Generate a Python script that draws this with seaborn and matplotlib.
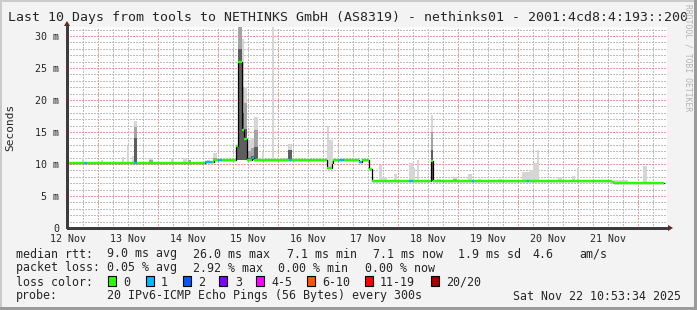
import matplotlib
matplotlib.use("Agg")
import matplotlib.pyplot as plt
from matplotlib.patches import Rectangle, Polygon
from matplotlib.lines import Line2D
import numpy as np
import pandas as pd
import seaborn as sns

# ---------------- data ----------------
title = "Last 10 Days from tools to NETHINKS GmbH (AS8319) - nethinks01 - 2001:4cd8:4:193::200"
day_labels = ["12 Nov", "13 Nov", "14 Nov", "15 Nov", "16 Nov",
              "17 Nov", "18 Nov", "19 Nov", "20 Nov", "21 Nov"]
label_hours = [12, 36, 60, 84, 108, 132, 156, 180, 204, 228]   # noon of each day (hours since 12 Nov 00:00)
midnight_hours = [24, 48, 72, 96, 120, 144, 168, 192, 216, 240]
ytick_vals = [0, 5, 10, 15, 20, 25, 30]
ytick_labels = ["0", "5 m", "10 m", "15 m", "20 m", "25 m", "30 m"]

# median rtt as runs: start hour, value (ms), loss bucket index
median_start = [11.6, 18.4, 19.6, 38.4, 39.6, 66.8, 69.6, 70.4, 71.9, 73.5,
                79.2, 80.1, 81.5, 82.5, 83.5, 85.5, 86.5, 100.4, 101.5,
                115.7, 117.5, 118.1, 120.4, 122.4, 128.4, 129.6, 132.3, 133.6,
                148.3, 150.0, 157.1, 158.1, 173.5, 174.4, 195.5, 196.5,
                229.5, 230.4]
median_ms = [10.2, 10.2, 10.2, 10.2, 10.2, 10.25, 10.35, 10.55, 10.55, 10.55,
             12.8, 26.0, 15.3, 13.9, 10.6, 10.9, 10.55, 10.55, 10.55,
             9.4, 10.2, 10.55, 10.55, 10.55, 10.3, 10.55, 9.2, 7.4,
             7.4, 7.4, 10.4, 7.4, 7.4, 7.4, 7.4, 7.4,
             7.25, 7.1]
median_loss = [0, 1, 0, 1, 0, 1, 0, 0, 1, 0,
               0, 0, 0, 0, 0, 1, 0, 1, 0,
               0, 0, 0, 1, 0, 1, 0, 0, 0,
               1, 0, 0, 0, 1, 0, 1, 0,
               0, 0]
median_end = 250.4

# smoke (ping distribution): start/end hour, low, high (light), mid (medium), dark tops (ms)
smoke_start = [17.6, 25.2, 33.6, 35.6, 37.6, 38.4, 44.4, 53.2, 58.0, 60.0, 67.6, 70.0,
               79.2, 80.1, 81.5, 82.5, 83.5, 85.2, 86.4, 89.6, 93.6, 100.0,
               115.7, 116.5, 136.4, 137.5, 142.3, 148.3, 149.9, 151.6, 157.1,
               159.6, 166.0, 172.0, 176.0, 184.0, 193.5, 196.8, 198.1, 199.5,
               208.0, 213.6, 215.6, 230.4, 242.1]
smoke_end = [18.4, 26.0, 34.4, 36.4, 38.4, 39.6, 46.0, 54.4, 59.6, 61.2, 68.8, 71.6,
             80.1, 81.5, 82.5, 83.5, 85.2, 86.4, 88.0, 90.4, 94.4, 101.6,
             116.5, 118.0, 137.5, 139.6, 143.5, 149.9, 150.9, 152.4, 158.1,
             161.2, 167.6, 173.6, 177.2, 185.6, 196.8, 198.1, 199.5, 200.4,
             209.6, 214.7, 216.4, 236.0, 243.5]
smoke_lo = [10.2, 10.2, 10.2, 10.2, 10.2, 10.2, 10.2, 10.2, 10.2, 10.2, 10.3, 10.4,
            10.55, 10.55, 10.55, 10.55, 10.55, 10.55, 10.55, 10.55, 10.55, 10.55,
            9.4, 9.4, 7.4, 7.4, 7.4, 7.4, 7.4, 7.4, 7.4,
            7.4, 7.4, 7.4, 7.4, 7.4, 7.4, 7.4, 7.4, 7.4,
            7.4, 7.4, 7.4, 7.1, 7.1]
smoke_hi = [10.9, 10.7, 11.1, 12.8, 11.2, 16.7, 10.9, 10.8, 10.9, 10.7, 10.6, 11.7,
            12.9, 31.4, 29.6, 22.0, 13.7, 14.0, 17.4, 11.9, 31.4, 13.1,
            16.0, 13.7, 9.9, 7.9, 8.4, 10.2, 9.4, 10.6, 17.7,
            7.7, 8.0, 8.4, 7.7, 7.7, 8.8, 9.0, 10.2, 12.2,
            8.0, 8.1, 9.4, 7.5, 9.7]
smoke_mid = [10.2, 10.2, 10.2, 10.2, 10.2, 15.8, 10.7, 10.2, 10.2, 10.6, 10.3, 11.0,
             12.9, 31.4, 22.0, 19.5, 12.0, 12.5, 15.3, 10.55, 10.55, 12.2,
             9.4, 9.4, 7.4, 7.4, 7.4, 7.4, 7.4, 7.4, 15.0,
             7.4, 7.7, 7.4, 7.4, 7.4, 7.4, 7.4, 7.4, 7.4,
             7.4, 7.4, 7.4, 7.1, 7.1]
smoke_dark = [10.2, 10.2, 10.2, 10.2, 10.2, 14.0, 10.2, 10.2, 10.2, 10.2, 10.3, 10.4,
              12.9, 28.0, 18.0, 15.5, 11.0, 11.2, 12.7, 10.55, 10.55, 12.2,
              9.4, 9.4, 7.4, 7.4, 7.4, 7.4, 7.4, 7.4, 12.2,
              7.4, 7.4, 7.4, 7.4, 7.4, 7.4, 7.4, 7.4, 7.4,
              7.4, 7.4, 7.4, 7.1, 7.1]

loss_labels = ["0", "1", "2", "3", "4-5", "6-10", "11-19", "20/20"]
loss_colors = ["#26ff00", "#00b8ff", "#0059ff", "#7e00ff",
               "#ff00ff", "#ff5500", "#ff0000", "#a10000"]

stats_row1 = ["median rtt:", "9.0 ms avg", "26.0 ms max", "7.1 ms min",
              "7.1 ms now", "1.9 ms sd", "4.6", "am/s"]
stats_row2 = ["packet loss:", "0.05 % avg", "2.92 % max", "0.00 % min", "0.00 % now"]
probe_text = "20 IPv6-ICMP Echo Pings (56 Bytes) every 300s"
stamp_text = "Sat Nov 22 10:53:34 2025"

# ---------------- layout ----------------
W, H = 697, 310
sns.set_style("white")
plt.rcParams['font.family'] = ['DejaVu Sans Mono', 'DejaVu Sans']
plt.rcParams['axes.unicode_minus'] = False
plt.rcParams['lines.scale_dashes'] = False

fig = plt.figure(figsize=(W / 100, H / 100), dpi=100)
fig.patch.set_facecolor('#f3f3f3')


def fx(x):
    return x / W


def fy(y):
    return 1 - y / H


# frame shading
fig.add_artist(Rectangle((0, fy(2)), 1, 2 / H, color='#cbcbcb', lw=0))
fig.add_artist(Rectangle((0, 0), 2 / W, 1, color='#cbcbcb', lw=0))
fig.add_artist(Rectangle((fx(694), 0), 3 / W, 1, color='#9b9b9b', lw=0))
fig.add_artist(Rectangle((0, 0), 1, 3 / H, color='#9b9b9b', lw=0))

ax = fig.add_axes([fx(67), fy(228), 600 / W, 201 / H])
ax.set_facecolor('white')
ax.set_xlim(11.6, 251.6)
ax.set_ylim(0, 31.4)
for s in ax.spines.values():
    s.set_visible(False)

grid_minor = '#bdbdbd'
grid_major = '#ee9a9a'
dash = (0, (1.44, 1.44))   # 2 px on, 2 px off
for h in range(12, 252, 6):
    c = grid_major if h in midnight_hours else grid_minor
    ax.axvline(h, color=c, lw=0.72, ls=dash, zorder=0.5, antialiased=False)
for v in range(1, 32):
    c = grid_major if v % 5 == 0 else grid_minor
    ax.axhline(v, color=c, lw=0.72, ls=dash, zorder=0.5, antialiased=False)

# smoke
sm = pd.DataFrame(dict(start=smoke_start, end=smoke_end, lo=smoke_lo,
                       hi=smoke_hi, mid=smoke_mid, dark=smoke_dark))
wdt = sm.end - sm.start
ax.bar(sm.start, sm.hi - sm.lo, bottom=sm.lo, width=wdt, align='edge',
       color='#d6d6d6', lw=0, zorder=2)
ax.bar(sm.start, sm.mid - sm.lo, bottom=sm.lo, width=wdt, align='edge',
       color='#a4a4a4', lw=0, zorder=2.1)
ax.bar(sm.start, sm.dark - sm.lo, bottom=sm.lo, width=wdt, align='edge',
       color='#5e5e5e', lw=0, zorder=2.2)

# median line
med = pd.DataFrame(dict(t=median_start, ms=median_ms, loss=median_loss))
med_ext = pd.concat([med[['t', 'ms']],
                     pd.DataFrame({'t': [median_end], 'ms': [median_ms[-1]]})],
                    ignore_index=True)
sns.lineplot(data=med_ext, x='t', y='ms', drawstyle='steps-post', color='black',
             lw=0.9, ax=ax, estimator=None, sort=False, zorder=3)
ends = median_start[1:] + [median_end]
ax.hlines(med.ms, med.t, ends, colors=[loss_colors[l] for l in med.loss],
          lw=1.7, zorder=4)

ax.set_xlabel('')
ax.set_ylabel('')
ax.set_xticks(label_hours)
ax.set_xticklabels(day_labels, fontsize=7.2)
ax.set_xticks(midnight_hours, minor=True)
ax.tick_params(axis='x', which='major', length=0, pad=4.5)
ax.tick_params(axis='x', which='minor', length=4, color='#e06060',
               direction='inout', width=0.8)
ax.set_yticks(ytick_vals)
ax.set_yticklabels(ytick_labels, fontsize=7.2)
ax.tick_params(axis='y', which='major', length=3, color='#e06060',
               direction='inout', width=0.8, pad=4)

# axes with arrows
ax_col = '#3c3c3c'
fig.add_artist(Line2D([fx(67), fx(67)], [fy(228), fy(24)], color=ax_col, lw=1,
                      antialiased=False))
fig.add_artist(Line2D([fx(67), fx(669)], [fy(228), fy(228)], color=ax_col, lw=1,
                      antialiased=False))
fig.add_artist(Polygon([(fx(64), fy(26)), (fx(70), fy(26)), (fx(67), fy(21))],
                       closed=True, color='#8b1010', lw=0))
fig.add_artist(Polygon([(fx(668), fy(225)), (fx(668), fy(231)), (fx(673), fy(228))],
                       closed=True, color='#8b1010', lw=0))

# texts
fig.text(fx(8), fy(18), title, fontsize=9.5, va='center', ha='left')
fig.text(fx(10), fy(127), "Seconds", fontsize=8.0, rotation=90,
         va='center', ha='center')
fig.text(fx(688), fy(58), "RRDTOOL / TOBI OETIKER", fontsize=5.8, rotation=270,
         va='center', ha='center', color='#b4b4b4')

fs = 8.4
row1_x = [16, 107, 193, 287, 373, 458, 532, 579]
for x, t in zip(row1_x, stats_row1):
    fig.text(fx(x), fy(254), t, fontsize=fs, va='center', ha='left')
row2_x = [16, 107, 193, 278, 365]
for x, t in zip(row2_x, stats_row2):
    fig.text(fx(x), fy(268), t, fontsize=fs, va='center', ha='left')

fig.text(fx(16), fy(282), "loss color:", fontsize=fs, va='center', ha='left')
box_x = [108, 146, 183, 219, 256, 307, 365, 431]
lab_x = [123, 161, 198, 235, 271, 322, 380, 446]
for bx, lx, lab, col in zip(box_x, lab_x, loss_labels, loss_colors):
    fig.add_artist(Rectangle((fx(bx), fy(286)), 8 / W, 10 / H, facecolor=col,
                             edgecolor='black', lw=0.8))
    fig.text(fx(lx), fy(282), lab, fontsize=fs, va='center', ha='left')

fig.text(fx(16), fy(296), "probe:", fontsize=fs, va='center', ha='left')
fig.text(fx(107), fy(296), probe_text, fontsize=fs, va='center', ha='left')
fig.text(fx(681), fy(296), stamp_text, fontsize=fs, va='center', ha='right')

fig.savefig("out.png", dpi=100, facecolor=fig.get_facecolor())
